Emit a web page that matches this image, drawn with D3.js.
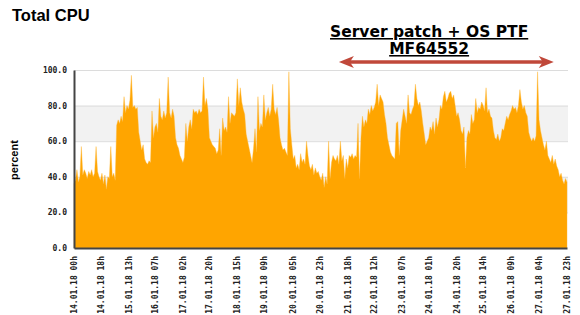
<!DOCTYPE html>
<html>
<head>
<meta charset="utf-8">
<script src="https://cdn.jsdelivr.net/npm/d3@7"></script>
<style>
  body { margin: 0; background: #fff; }
  svg { display: block; }
</style>
</head>
<body>
<div id="chart"></div>
<script>
// hourly total CPU in percent, 14.01.18 00h .. 27.01.18 23h (one row per day)
const cpu = [
  36, 38, 44, 37, 40, 57, 41, 44, 42, 39, 43, 41, 44, 40, 42, 57, 43, 40, 38, 42, 36, 41, 33, 40,
  39, 57, 40, 42, 38, 69, 72, 70, 74, 71, 85, 76, 80, 78, 83, 97, 79, 80, 78, 79, 65, 60, 55, 58,
  50, 48, 47, 49, 48, 77, 62, 68, 70, 65, 84, 74, 72, 77, 73, 76, 96, 76, 73, 78, 74, 62, 58, 56,
  52, 50, 48, 51, 70, 60, 68, 72, 67, 78, 76, 77, 75, 78, 76, 77, 96, 80, 84, 78, 62, 60, 58, 57,
  56, 53, 55, 67, 52, 73, 66, 68, 65, 85, 70, 76, 75, 74, 76, 95, 80, 90, 82, 78, 75, 64, 60, 56,
  52, 48, 56, 67, 54, 85, 66, 70, 68, 86, 72, 76, 79, 74, 78, 92, 78, 75, 79, 72, 62, 58, 55, 56,
  54, 52, 99, 67, 58, 50, 52, 45, 47, 44, 53, 48, 50, 47, 60, 52, 46, 44, 47, 41, 45, 42, 43, 40,
  38, 42, 34, 40, 36, 60, 39, 48, 52, 50, 49, 52, 47, 60, 49, 52, 39, 50, 45, 52, 51, 53, 50, 52,
  51, 70, 39, 62, 74, 68, 72, 70, 78, 75, 80, 77, 79, 82, 92, 80, 86, 84, 82, 75, 70, 62, 58, 54,
  52, 51, 50, 70, 71, 52, 66, 72, 78, 74, 70, 86, 76, 75, 78, 80, 92, 84, 80, 82, 77, 70, 64, 58,
  60, 62, 68, 66, 71, 64, 73, 68, 72, 80, 78, 85, 88, 82, 84, 87, 88, 84, 86, 80, 74, 76, 72, 66,
  64, 68, 45, 62, 66, 64, 75, 70, 72, 84, 76, 79, 78, 82, 80, 77, 90, 76, 78, 74, 73, 66, 62, 61,
  64, 60, 62, 67, 66, 70, 74, 72, 75, 77, 80, 78, 79, 76, 80, 89, 82, 78, 80, 76, 74, 65, 62, 60,
  62, 60, 63, 99, 72, 66, 62, 58, 55, 60, 52, 50, 48, 52, 47, 50, 46, 44, 40, 42, 38, 36, 39, 37
];

const startTime = Date.UTC(2018, 0, 14, 0);
const tickLabels = [
  '14.01.18 00h', '14.01.18 18h', '15.01.18 13h', '16.01.18 07h', '17.01.18 02h',
  '17.01.18 20h', '18.01.18 15h', '19.01.18 09h', '20.01.18 05h', '20.01.18 23h',
  '21.01.18 18h', '22.01.18 12h', '23.01.18 07h', '24.01.18 01h', '24.01.18 20h',
  '25.01.18 14h', '26.01.18 09h', '27.01.18 04h', '27.01.18 23h'
];
const yTicks = [0, 20, 40, 60, 80, 100];
const title = 'Total CPU';
const noteLines = ['Server patch + OS PTF', 'MF64552'];
// the patch window marked by the arrow (hours from start)
const noteSpan = [180, 326];

const width = 580;
const height = 315;
const margin = { top: 70, right: 13, bottom: 67, left: 74 };

const parseLabel = d3.utcParse('%d.%m.%y %Hh');
const hourDate = i => new Date(startTime + i * 3600e3);

const data = cpu.map((v, i) => ({ t: hourDate(i), v }));

// scales
const scaleX = d3.scaleUtc()
  .domain([hourDate(0), hourDate(cpu.length - 1)])
  .range([margin.left, width - margin.right]);
const scaleY = d3.scaleLinear()
  .domain([0, 100])
  .range([height - margin.bottom, margin.top]);

const $svg = d3.select('#chart').append('svg')
  .attr('width', width)
  .attr('height', height);

// title
$svg.append('text')
  .attr('x', 12)
  .attr('y', 21)
  .style('font', 'bold 16.5px "Liberation Sans", Arial, sans-serif')
  .text(title);

// alternating bands
const $grid = $svg.append('g').attr('class', 'g-grid');
[[20, 40], [60, 80]].forEach(([a, b]) => {
  $grid.append('rect')
    .attr('x', margin.left)
    .attr('y', scaleY(b))
    .attr('width', width - margin.right - margin.left + 1)
    .attr('height', scaleY(a) - scaleY(b))
    .attr('fill', '#f2f2f2');
});
$grid.selectAll('line')
  .data(yTicks.filter(d => d > 0))
  .join('line')
  .attr('x1', margin.left)
  .attr('x2', width - margin.right + 1)
  .attr('y1', d => scaleY(d) + 0.5)
  .attr('y2', d => scaleY(d) + 0.5)
  .attr('stroke', '#dcdcdc')
  .attr('stroke-width', 1);

// area
const area = d3.area()
  .x(d => scaleX(d.t))
  .y0(scaleY(0))
  .y1(d => scaleY(d.v));

$svg.append('path')
  .datum(data)
  .attr('d', area)
  .attr('fill', '#ffa500')
  .attr('stroke', '#ffb733')
  .attr('stroke-width', 0.4);

// y axis
const axisY = d3.axisLeft(scaleY)
  .tickValues(yTicks)
  .tickSize(0)
  .tickPadding(7)
  .tickFormat(d3.format('.1f'));
const $axisY = $svg.append('g')
  .attr('transform', `translate(${margin.left},0)`)
  .call(axisY);
$axisY.select('.domain')
  .attr('stroke', '#444')
  .attr('stroke-width', 2);
$axisY.selectAll('text')
  .style('font', 'bold 8px "DejaVu Sans Mono", monospace')
  .attr('fill', '#222');

// x axis
const axisX = d3.axisBottom(scaleX)
  .tickValues(tickLabels.map(parseLabel))
  .tickSize(0)
  .tickPadding(0)
  .tickFormat(d3.utcFormat('%d.%m.%y %Hh'));
const $axisX = $svg.append('g')
  .attr('transform', `translate(0,${height - margin.bottom})`)
  .call(axisX);
$axisX.select('.domain')
  .attr('stroke', '#444')
  .attr('stroke-width', 2);
$axisX.selectAll('text')
  .attr('transform', 'rotate(-90)')
  .attr('x', -8)
  .attr('y', 0)
  .attr('dy', '0.32em')
  .attr('text-anchor', 'end')
  .style('font', 'bold 8px "DejaVu Sans Mono", monospace')
  .attr('fill', '#222');

// y label
$svg.append('text')
  .attr('transform', 'translate(18,160) rotate(-90)')
  .attr('text-anchor', 'middle')
  .style('font', 'bold 11px "Liberation Sans", Arial, sans-serif')
  .text('percent');

// annotation arrow
const ay = 62;
const ax0 = scaleX(hourDate(noteSpan[0]));
const ax1 = scaleX(hourDate(noteSpan[1]));
const arrowColor = '#c0483a';
$svg.append('line')
  .attr('x1', ax0 + 8)
  .attr('x2', ax1 - 8)
  .attr('y1', ay)
  .attr('y2', ay)
  .attr('stroke', arrowColor)
  .attr('stroke-width', 3.5);
$svg.append('path')
  .attr('d', `M${ax0},${ay} L${ax0 + 15},${ay - 6} L${ax0 + 11},${ay} L${ax0 + 15},${ay + 6} Z`)
  .attr('fill', arrowColor);
$svg.append('path')
  .attr('d', `M${ax1},${ay} L${ax1 - 15},${ay - 6} L${ax1 - 11},${ay} L${ax1 - 15},${ay + 6} Z`)
  .attr('fill', arrowColor);

// annotation text, centred a little left of the arrow like the original
const noteX = ax0 + (ax1 - ax0) * 0.42;
$svg.selectAll('.note')
  .data(noteLines)
  .join('text')
  .attr('class', 'note')
  .attr('x', noteX)
  .attr('y', (d, i) => 37 + i * 17)
  .attr('text-anchor', 'middle')
  .style('font', 'bold 15.5px "DejaVu Sans", Verdana, sans-serif')
  .style('text-decoration', 'underline')
  .text(d => d);
</script>
</body>
</html>
